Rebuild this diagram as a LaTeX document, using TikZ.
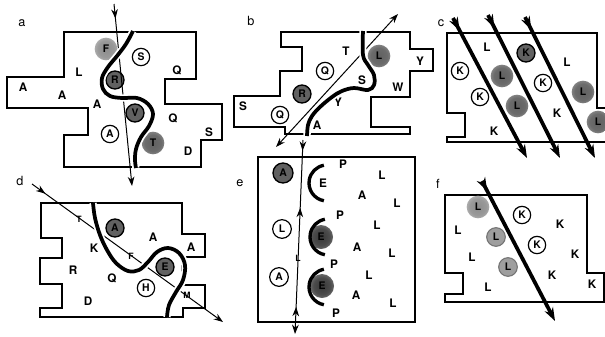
\documentclass[tikz,border=0pt]{standalone}
\usepackage{fontspec}
\setmainfont{TeX Gyre Heros}
\usetikzlibrary{arrows.meta,decorations.markings}
\pgfdeclareradialshading{softmid}{\pgfpoint{0bp}{0bp}}{color(0bp)=(black!62); color(18bp)=(black!58); color(34bp)=(black!38); color(50bp)=(white)}
\pgfdeclareradialshading{softlight}{\pgfpoint{0bp}{0bp}}{color(0bp)=(black!45); color(18bp)=(black!40); color(34bp)=(black!24); color(50bp)=(white)}
\pgfdeclareradialshading{softdark}{\pgfpoint{0bp}{0bp}}{color(0bp)=(black!78); color(18bp)=(black!70); color(34bp)=(black!45); color(50bp)=(white)}
\tikzset{
  lbl/.style={font=\fontsize{8.8}{9}\selectfont\bfseries, inner sep=0pt},
  sml/.style={font=\fontsize{6.5}{7}\selectfont\bfseries, inner sep=0pt},
  plab/.style={font=\fontsize{9.5}{10}\selectfont, inner sep=0pt},
  opn/.style={circle, draw, line width=0.9pt, fill=white, minimum size=13pt, inner sep=0pt, font=\fontsize{7.8}{8}\selectfont\bfseries},
  drk/.style={circle, draw, line width=1pt, fill=black!62, minimum size=13.5pt, inner sep=0pt, font=\fontsize{7.8}{8}\selectfont\bfseries},
  shdM/.style={circle, shading=softmid, minimum size=17pt, inner sep=0pt, font=\fontsize{7.8}{8}\selectfont\bfseries},
  shdL/.style={circle, shading=softlight, minimum size=17pt, inner sep=0pt, font=\fontsize{7.8}{8}\selectfont\bfseries},
  shdD/.style={circle, shading=softdark, minimum size=18pt, inner sep=0pt, font=\fontsize{7.8}{8}\selectfont\bfseries},
  shdR/.style={circle, draw=black!55, line width=0.8pt, fill=black!38, minimum size=14pt, inner sep=0pt, font=\fontsize{7.8}{8}\selectfont\bfseries},
  outl/.style={line width=0.9pt, line join=miter},
  thinln/.style={line width=0.75pt},
  thickln/.style={line width=2.8pt},
  halo/.style={line width=2.8pt, preaction={draw=white, line width=5.5pt}},
  arcst/.style={line width=2.5pt},
  >={Stealth[length=7pt,width=5pt]},
  bigtip/.tip={Stealth[length=10pt,width=7pt]},
  marr/.style={postaction={decorate, decoration={markings, mark=at position #1 with {\arrow{>}}}}},
  rarr/.style={postaction={decorate, decoration={markings, mark=at position #1 with {\arrowreversed{>}}}}},
  bmarr/.style={postaction={decorate, decoration={markings, mark=at position #1 with {\arrow{bigtip}}}}}
}
\begin{document}
\begin{tikzpicture}[x=0.75pt,y=-0.75pt]
\useasboundingbox (0,0) rectangle (605,336);
\clip (0,0) rectangle (605,336);

% ---------------- panel a ----------------
\draw[outl] (64,32) -- (196,32) -- (196,79) -- (165,79) -- (165,104) -- (222,104) -- (222,140) -- (201,140) -- (201,167) -- (64,167) -- (64,135) -- (88,135) -- (88,108) -- (7,108) -- (7,77) -- (64,77) -- cycle;
\node[plab] (la) at (22,23) {a};
\node[shdL] (aF) at (106,49) {F};
\node[opn] (aS) at (141,57) {S};
\node[lbl] (aQ1) at (177,70) {Q};
\node[lbl] (aL) at (79,72) {L};
\node[drk] (aR) at (115,80) {R};
\node[lbl] (aA1) at (23,87) {A};
\node[lbl] (aA2) at (62,95) {A};
\node[lbl] (aA3) at (97,104) {A};
\node[drk] (aV) at (135,113) {V};
\node[lbl] (aQ2) at (173,118) {Q};
\node[opn] (aA4) at (110,134) {A};
\node[shdM] (aT) at (153,143) {T};
\node[lbl] (aD) at (188,151) {D};
\node[lbl] (aS2) at (209,132) {S};
\coordinate (a1) at (114,4);
\coordinate (a2) at (132,186);
\draw[thinln, ->, marr=0.08] (a1) -- (a2);
\draw[halo] plot[smooth, tension=0.6] coordinates {(133,31) (126,44) (117,56) (108,67) (102,78) (103,89) (110,96) (122,98) (137,98) (148,104) (153,114) (149,126) (141,137) (136,149) (135,160) (136,168)};

% ---------------- panel b ----------------
\draw[outl] (281,32) -- (410,32) -- (410,49) -- (433,49) -- (433,71) -- (410,71) -- (410,97) -- (371,97) -- (371,127) -- (410,127) -- (410,134) -- (285,134) -- (285,127) -- (234,127) -- (234,96) -- (280,96) -- (280,71) -- (302,71) -- (302,47) -- (281,47) -- cycle;
\node[plab] (lb) at (251,21) {b};
\node[lbl] (bT) at (346,51) {T};
\node[shdM] (bL) at (379,56) {L};
\node[lbl] (bY1) at (420,61) {Y};
\node[opn] (bQ1) at (325,71) {Q};
\node[lbl] (bS1) at (362,80) {S};
\node[lbl] (bW) at (398,87) {W};
\node[drk] (bR) at (302,94) {R};
\node[lbl] (bY2) at (338,102) {Y};
\node[lbl] (bS2) at (243,106) {S};
\node[opn] (bQ2) at (280,115) {Q};
\node[lbl] (bA) at (317,125) {A};
\coordinate (b1) at (398,14);
\coordinate (b2) at (276,147);
\draw[thinln, <->] (b2) -- (b1);
\draw[halo] plot[smooth, tension=0.6] coordinates {(363,31) (363,55) (368,65) (374,75) (374,85) (368,90) (354,88) (342,91) (332,97) (320,107) (312,116) (308,125) (307,136)};

% ---------------- panel c ----------------
\draw[outl] (605,108) -- (597,108) -- (597,33) -- (447,33) -- (447,113) -- (465,113) -- (465,137) -- (447,137) -- (447,142) -- (605,142);
\node[plab] (lc) at (441,23) {c};
\node[lbl] (cL1) at (487,47) {L};
\node[drk] (cK1) at (526,53) {K};
\node[lbl] (cL2) at (567,62) {L};
\node[opn] (cK2) at (460,71) {K};
\node[shdM] (cL3) at (502,76) {L};
\node[opn] (cK3) at (543,83) {K};
\node[shdM] (cL4) at (583,92) {L};
\node[opn] (cK4) at (480,97) {K};
\node[shdM] (cL5) at (517,106) {L};
\node[lbl] (cK5) at (557,113) {K};
\node[shdM] (cL6) at (598,122) {L};
\node[lbl] (cK6) at (494,131) {K};
\coordinate (c1a) at (453,18); \coordinate (c1b) at (527,158);
\coordinate (c2a) at (488,15); \coordinate (c2b) at (560,158);
\coordinate (c3a) at (525,17); \coordinate (c3b) at (595,158);
\draw[thickln, -bigtip, bmarr=0.09] (c1a) -- (c1b);
\draw[thickln, -bigtip, bmarr=0.09] (c2a) -- (c2b);
\draw[thickln, -bigtip, bmarr=0.09] (c3a) -- (c3b);

% ---------------- panel d ----------------
\draw[outl] (41,203) -- (182,203) -- (182,234) -- (205,234) -- (205,257) -- (182,257) -- (182,285) -- (205,285) -- (205,308) -- (183,308) -- (183,317) -- (40,317) -- (40,308) -- (62,308) -- (62,284) -- (40,284) -- (40,258) -- (62,258) -- (62,238) -- (41,238) -- cycle;
\node[plab] (ld) at (20,181) {d};
\node[drk] (dA1) at (115,228) {A};
\node[lbl] (dA2) at (153,237) {A};
\node[lbl] (dA3) at (191,247) {A};
\node[lbl] (dK) at (94,248) {K};
\node[drk] (dE) at (165,267) {E};
\node[lbl] (dR) at (73,270) {R};
\node[lbl] (dQ) at (112,278) {Q};
\node[opn] (dH) at (146,288) {H};
\node[lbl] (dD) at (88,301) {D};
\coordinate (d1) at (32,184);
\coordinate (d2) at (223,322);
\draw[thinln, ->, marr=0.07] (d1) -- (d2);
\node[sml] (dT) at (79,219) {T};
\node[sml] (dF) at (131,256) {F};
\node[sml] (dM) at (187,295) {M};
\draw[halo] plot[smooth, tension=0.6] coordinates {(93,203) (95,218) (100,235) (107,250) (116,263) (128,271) (139,270) (148,262) (157,252) (168,248) (179,253) (185,265) (183,280) (176,292) (169,305) (167,317)};

% ---------------- panel e ----------------
\draw[outl] (258,157) rectangle (415,322);
\node[plab] (le) at (240,183) {e};
\node[drk, minimum size=15pt] (eA1) at (283,173) {A};
\node[lbl] (eE1) at (323,183) {E};
\node[lbl] (eP1) at (343,164) {P};
\node[lbl] (eL1) at (382,175) {L};
\node[lbl] (eA2) at (362,195) {A};
\node[lbl] (eL2) at (397,203) {L};
\node[lbl] (eP2) at (340,215) {P};
\node[lbl] (eL3) at (377,225) {L};
\node[opn, minimum size=14pt] (eL4) at (282,229) {L};
\node[shdD] (eE2) at (321,237) {E};
\node[lbl] (eA3) at (357,247) {A};
\node[lbl] (eL5) at (392,253) {L};
\node[lbl] (eP3) at (334,264) {P};
\node[lbl] (eL6) at (369,275) {L};
\node[opn, minimum size=14pt] (eA4) at (279,277) {A};
\node[shdD] (eE3) at (322,286) {E};
\node[lbl] (eA5) at (356,295) {A};
\node[lbl] (eL7) at (393,303) {L};
\node[lbl] (eP4) at (336,313) {P};
\coordinate (eC1) at (327,183);
\coordinate (eC2) at (328,237);
\coordinate (eC3) at (327,287);
\draw[arcst] ([shift={(100:18)}]eC1) arc[start angle=100, end angle=260, radius=18];
\draw[arcst] ([shift={(100:18)}]eC2) arc[start angle=100, end angle=260, radius=18];
\draw[arcst] ([shift={(100:18)}]eC3) arc[start angle=100, end angle=260, radius=18];
\coordinate (e1) at (303,140);
\coordinate (e2) at (295,334);
\draw[thinln, ->, marr=0.055, rarr=0.35, rarr=0.86] (e1) -- (e2);
\node[sml] (eL8) at (298,258) {L};

% ---------------- panel f ----------------
\draw[outl] (445,195) -- (587,195) -- (587,273) -- (604,273) -- (604,302) -- (445,302) -- (445,294) -- (463,294) -- (463,273) -- (445,273) -- cycle;
\node[plab] (lf) at (438,184) {f};
\node[shdL] (fL1) at (478,207) {L};
\node[opn] (fK1) at (522,215) {K};
\node[lbl] (fK2) at (560,224) {K};
\node[lbl] (fL2) at (458,230) {L};
\node[shdR] (fL3) at (496,237) {L};
\node[opn] (fK3) at (537,245) {K};
\node[lbl] (fK4) at (575,254) {K};
\node[lbl] (fL4) at (472,257) {L};
\node[shdR] (fL5) at (508,267) {L};
\node[lbl] (fK5) at (552,275) {K};
\node[lbl] (fK6) at (592,284) {K};
\node[lbl] (fL6) at (488,287) {L};
\coordinate (f1) at (482,181);
\coordinate (f2) at (555,321);
\draw[thickln, -bigtip, bmarr=0.07] (f1) -- (f2);
\end{tikzpicture}
\end{document}
